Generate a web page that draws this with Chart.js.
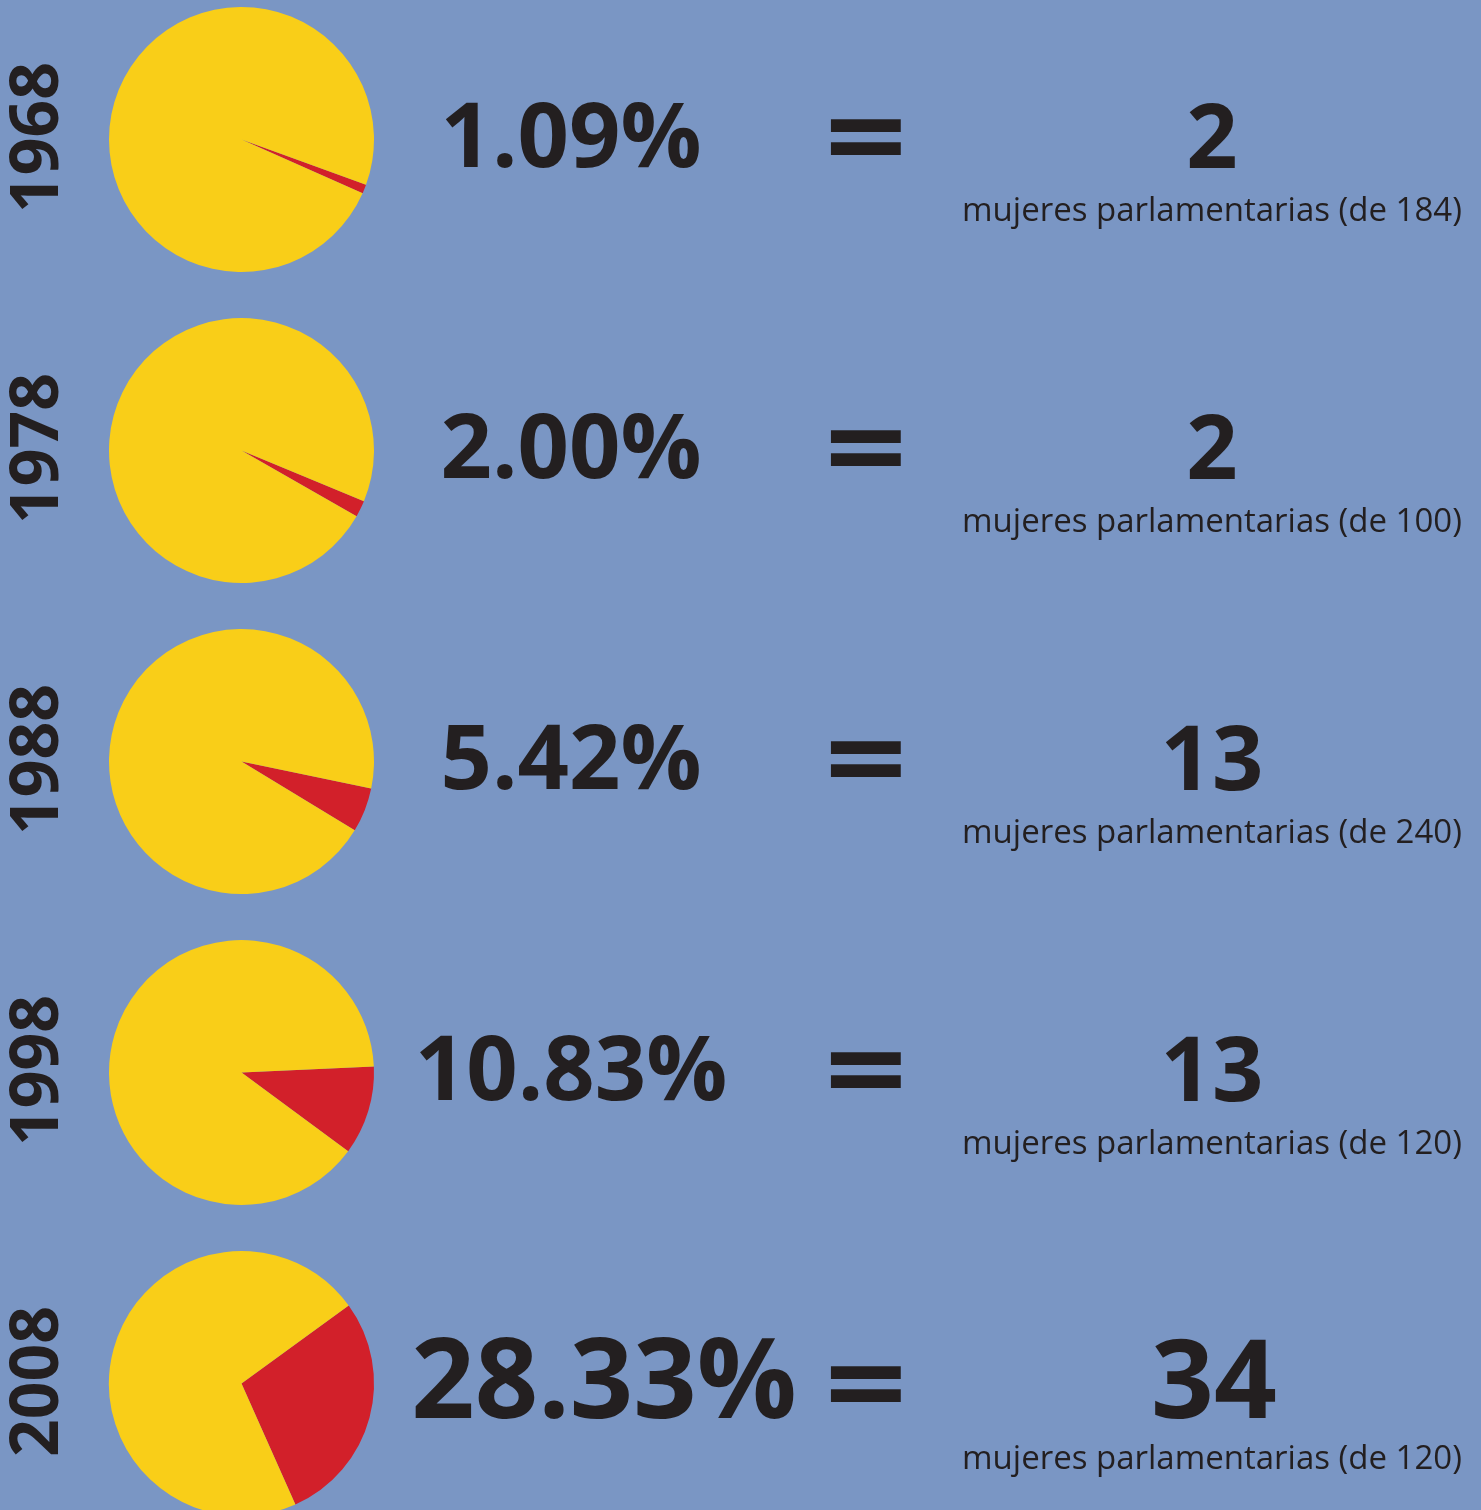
<!DOCTYPE html>
<html>
<head>
<meta charset="utf-8">
<script src="https://cdn.jsdelivr.net/npm/chart.js@4/dist/chart.umd.min.js"></script>
<style>
  html, body { margin: 0; padding: 0; }
  body { width: 1481px; height: 1510px; overflow: hidden; background: #7a96c4; position: relative; }
  canvas { position: absolute; left: 0; }
</style>
</head>
<body>
<div id="rows"></div>
<script>
// data
const years = ['1968', '1978', '1988', '1998', '2008'];
const women = [2, 2, 13, 13, 34];
const seats = [184, 100, 240, 120, 120];
const subtitle = 'mujeres parlamentarias (de ';

// where the red slice starts, in chart.js degrees (0 = top)
const startAngles = [110, 112.5, 101.8, 87.4, 54];

const RED = '#d2202a';
const YELLOW = '#f9ce18';
const INK = '#231f20';
const ROW_H = 311;

// draw text squeezed horizontally by sx, anchored at its center
const drawText = (ctx, txt, x, y, font, sx) => {
  ctx.save();
  ctx.font = font;
  ctx.textAlign = 'center';
  ctx.textBaseline = 'alphabetic';
  ctx.translate(x, y);
  ctx.scale(sx, 1);
  ctx.fillText(txt, 0, 0);
  ctx.restore();
};

const rowLabels = {
  id: 'rowLabels',
  afterDraw(chart, args, opts) {
    const i = opts.row;
    const big = i === years.length - 1;
    const ctx = chart.ctx;
    const cy = 139.5;
    ctx.fillStyle = INK;

    // year, rotated, baseline on the right
    ctx.save();
    ctx.translate(58, cy - 2);
    ctx.rotate(-Math.PI / 2);
    ctx.font = '700 66px "Open Sans"';
    ctx.textAlign = 'center';
    ctx.fillText(years[i], 0, 0);
    ctx.restore();

    const pct = (women[i] / seats[i] * 100).toFixed(2) + '%';
    if (big) {
      drawText(ctx, pct, 604, cy + 34, '700 111px "Open Sans"', 1.0);
      drawText(ctx, String(women[i]), 1214, cy + 34.5, '700 110px "Open Sans"', 1.0);
      drawText(ctx, subtitle + seats[i] + ')', 1212, cy + 85.5, '400 33px "Open Sans"', 1.0);
    } else {
      drawText(ctx, pct, 571, cy + 27.5, '700 90px "Open Sans"', 1.0);
      drawText(ctx, String(women[i]), 1212, cy + 28.5, '700 90px "Open Sans"', 1.0);
      drawText(ctx, subtitle + seats[i] + ')', 1212, cy + 81, '400 33px "Open Sans"', 1.0);
    }
    drawText(ctx, '=', 866, cy + (big ? 3 : 0) + 40, '700 120px "Open Sans"', 1.2);
  }
};

const holder = document.getElementById('rows');

years.forEach((year, i) => {
  const canvas = document.createElement('canvas');
  canvas.width = 1481;
  canvas.height = ROW_H;
  canvas.style.top = (ROW_H * i) + 'px';
  holder.appendChild(canvas);

  new Chart(canvas.getContext('2d'), {
    type: 'pie',
    data: {
      labels: ['mujeres', 'hombres'],
      datasets: [{
        data: [women[i], seats[i] - women[i]],
        backgroundColor: [RED, YELLOW],
        borderWidth: 0
      }]
    },
    options: {
      responsive: false,
      animation: false,
      rotation: startAngles[i],
      layout: { padding: { left: 109, right: 1107, top: 7, bottom: 39 } },
      plugins: {
        legend: { display: false },
        tooltip: { enabled: false },
        rowLabels: { row: i }
      }
    },
    plugins: [rowLabels]
  });
});
</script>
</body>
</html>
